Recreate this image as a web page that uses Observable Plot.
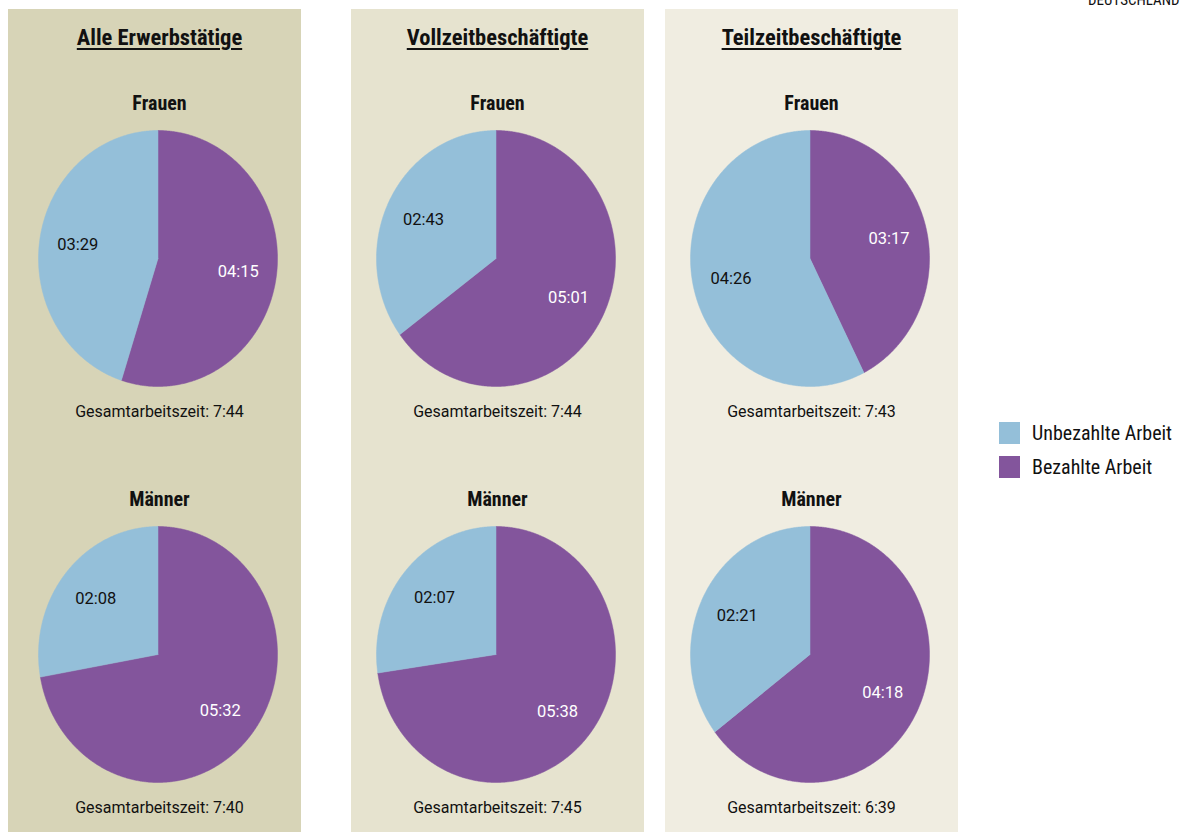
<!DOCTYPE html>
<html>
<head>
<meta charset="utf-8">
<script src="https://cdn.jsdelivr.net/npm/d3@7"></script>
<script src="https://cdn.jsdelivr.net/npm/@observablehq/plot@0.6"></script>
<style>
  html, body { margin: 0; padding: 0; background: #ffffff; }
  body { width: 1184px; height: 832px; position: relative; overflow: hidden; }
  .cond { font-family: Roboto, "DejaVu Sans Condensed", sans-serif; font-stretch: condensed; }
  .panel { position: absolute; top: 9px; height: 823px; width: 293px; }
  .title { position: absolute; width: 100%; text-align: center; font-weight: bold; font-size: 22.5px; color: #111; text-decoration: underline; text-underline-offset: 3px; text-decoration-thickness: 2px; top: 15px; white-space: nowrap; }
  .sex { position: absolute; width: 100%; text-align: center; font-weight: bold; font-size: 20px; color: #111; white-space: nowrap; }
  .total { position: absolute; width: 100%; text-align: center; font-family: Roboto, sans-serif; font-stretch: normal; font-size: 16px; color: #111; white-space: nowrap; }
  .pie { position: absolute; font-stretch: normal; }
  .legend { position: absolute; left: 999px; font-size: 20px; color: #111; }
  .legend div { height: 22px; display: flex; align-items: center; margin-bottom: 12px; white-space: nowrap; }
  .legend span.sw { display: inline-block; width: 21px; height: 22px; margin-right: 12px; flex: none; }
  .topnote { position: absolute; left: 1088px; top: -9px; font-size: 15px; color: #111; white-space: nowrap; }
</style>
</head>
<body>
<script>
// ---- data ----
const groups = ["Alle Erwerbstätige", "Vollzeitbeschäftigte", "Teilzeitbeschäftigte"];
const sexes = ["Frauen", "Männer"];
const seriesNames = ["Unbezahlte Arbeit", "Bezahlte Arbeit"];
// per group: [Frauen, Männer]
const unbezahlt = [["03:29", "02:08"], ["02:43", "02:07"], ["04:26", "02:21"]];
const bezahlt   = [["04:15", "05:32"], ["05:01", "05:38"], ["03:17", "04:18"]];
const gesamt    = [["7:44", "7:40"], ["7:44", "7:45"], ["7:43", "6:39"]];

// ---- styles ----
const panelColors = ["#d7d4b7", "#e6e3cf", "#f0ede1"];
const panelLeft = [8, 351, 665];
const pieLeft = [30, 25, 25];
const textShift = [5, 0, 0];
const sliceColors = ["#94bfd9", "#83559c"];
const labelColors = ["#111111", "#ffffff"];

const toMin = s => { const [h, m] = s.split(":").map(Number); return h * 60 + m; };

function piePlot(unb, bez) {
  const u = toMin(unb), b = toMin(bez);
  const total = u + b;
  const aSplit = 2 * Math.PI * b / total;
  const slices = [
    {key: seriesNames[1], a0: 0, a1: aSplit, label: bez},
    {key: seriesNames[0], a0: aSplit, a1: 2 * Math.PI, label: unb}
  ];
  const pts = [];
  for (const s of slices) {
    pts.push({key: s.key, x: 0, y: 0});
    const n = Math.max(4, Math.ceil((s.a1 - s.a0) / (Math.PI / 360)));
    for (let i = 0; i <= n; i++) {
      const t = s.a0 + (s.a1 - s.a0) * i / n;
      pts.push({key: s.key, x: Math.sin(t), y: Math.cos(t)});
    }
    pts.push({key: s.key, x: 0, y: 0});
  }
  const labels = slices.map(s => {
    const m = (s.a0 + s.a1) / 2;
    return {key: s.key, label: s.label, x: 0.68 * Math.sin(m), y: 0.68 * Math.cos(m)};
  });
  return Plot.plot({
    width: 239, height: 256,
    margin: 0,
    x: {domain: [-1, 1], axis: null},
    y: {domain: [-1, 1], axis: null},
    color: {domain: seriesNames, range: sliceColors},
    style: {background: "transparent", overflow: "visible"},
    marks: [
      Plot.line(pts, {x: "x", y: "y", z: "key", fill: "key", stroke: "key", strokeWidth: 0.5, curve: "linear"}),
      Plot.text(labels, {x: "x", y: "y", text: "label", fill: d => labelColors[seriesNames.indexOf(d.key)],
        fontSize: 16.5, fontFamily: "Roboto, sans-serif"})
    ]
  });
}

groups.forEach((g, gi) => {
  const p = document.createElement("div");
  p.className = "panel cond";
  p.style.left = panelLeft[gi] + "px";
  p.style.background = panelColors[gi];
  document.body.appendChild(p);

  const t = document.createElement("div");
  t.className = "title";
  t.style.left = textShift[gi] + "px";
  t.textContent = g;
  p.appendChild(t);

  sexes.forEach((s, si) => {
    const off = si * 396;
    const sx = document.createElement("div");
    sx.className = "sex";
    sx.style.left = textShift[gi] + "px";
    sx.style.top = (82 + off) + "px";
    sx.textContent = s;
    p.appendChild(sx);

    const holder = document.createElement("div");
    holder.className = "pie";
    holder.style.left = pieLeft[gi] + "px";
    holder.style.top = (121 + off) + "px";
    holder.appendChild(piePlot(unbezahlt[gi][si], bezahlt[gi][si]));
    p.appendChild(holder);

    const tot = document.createElement("div");
    tot.className = "total";
    tot.style.left = textShift[gi] + "px";
    tot.style.top = (393 + off) + "px";
    tot.textContent = "Gesamtarbeitszeit: " + gesamt[gi][si];
    p.appendChild(tot);
  });
});

const lg = document.createElement("div");
lg.className = "legend cond";
lg.style.top = "422px";
seriesNames.forEach((n, i) => {
  const row = document.createElement("div");
  const sw = document.createElement("span");
  sw.className = "sw";
  sw.style.background = sliceColors[i];
  row.appendChild(sw);
  row.appendChild(document.createTextNode(n));
  lg.appendChild(row);
});
document.body.appendChild(lg);

const note = document.createElement("div");
note.className = "topnote cond";
note.textContent = "DEUTSCHLAND";
document.body.appendChild(note);
</script>
</body>
</html>
